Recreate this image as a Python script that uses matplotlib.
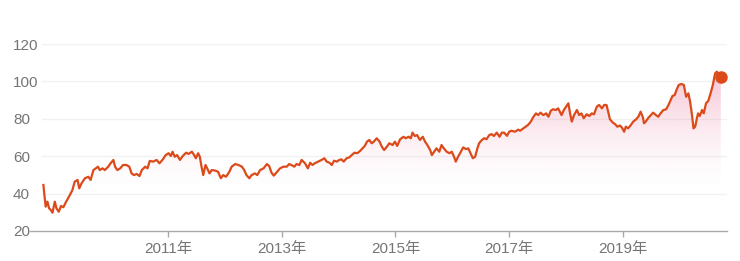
import numpy as np
import matplotlib
matplotlib.use("Agg")
import matplotlib.pyplot as plt
from matplotlib.colors import to_rgb

plt.rcParams["font.family"] = ["Liberation Sans", "Noto Sans CJK SC"]

# --- data (decimal year, price) ---
years = [
    2008.81, 2008.83, 2008.85, 2008.88, 2008.91, 2008.94, 2008.97, 2009.01, 2009.04, 2009.08,
    2009.12, 2009.16, 2009.21, 2009.26, 2009.32, 2009.36, 2009.41, 2009.44, 2009.48, 2009.54,
    2009.60, 2009.64, 2009.69, 2009.73, 2009.77, 2009.80, 2009.85, 2009.89, 2009.95, 2009.99,
    2010.04, 2010.07, 2010.11, 2010.16, 2010.21, 2010.27, 2010.32, 2010.36, 2010.40, 2010.45,
    2010.50, 2010.54, 2010.60, 2010.64, 2010.68, 2010.74, 2010.80, 2010.85, 2010.91, 2010.96,
    2011.01, 2011.05, 2011.08, 2011.12, 2011.16, 2011.21, 2011.26, 2011.32, 2011.36, 2011.42,
    2011.46, 2011.49, 2011.53, 2011.56, 2011.59, 2011.62, 2011.66, 2011.69, 2011.73, 2011.77,
    2011.83, 2011.88, 2011.93, 2011.97, 2012.02, 2012.08, 2012.12, 2012.18, 2012.24, 2012.30,
    2012.34, 2012.38, 2012.43, 2012.47, 2012.53, 2012.57, 2012.62, 2012.68, 2012.74, 2012.78,
    2012.82, 2012.86, 2012.92, 2012.97, 2013.03, 2013.09, 2013.13, 2013.17, 2013.22, 2013.26,
    2013.31, 2013.35, 2013.41, 2013.46, 2013.50, 2013.54, 2013.58, 2013.64, 2013.70, 2013.75,
    2013.79, 2013.84, 2013.88, 2013.92, 2013.97, 2014.01, 2014.05, 2014.09, 2014.14, 2014.19,
    2014.23, 2014.28, 2014.33, 2014.38, 2014.42, 2014.46, 2014.50, 2014.54, 2014.58, 2014.62,
    2014.67, 2014.72, 2014.76, 2014.80, 2014.85, 2014.89, 2014.95, 2014.99, 2015.03, 2015.08,
    2015.14, 2015.18, 2015.23, 2015.27, 2015.30, 2015.34, 2015.38, 2015.43, 2015.48, 2015.52,
    2015.56, 2015.61, 2015.64, 2015.68, 2015.72, 2015.77, 2015.81, 2015.85, 2015.90, 2015.95,
    2015.99, 2016.03, 2016.06, 2016.10, 2016.15, 2016.19, 2016.24, 2016.28, 2016.32, 2016.36,
    2016.40, 2016.44, 2016.47, 2016.52, 2016.56, 2016.60, 2016.65, 2016.69, 2016.73, 2016.78,
    2016.83, 2016.87, 2016.91, 2016.96, 2017.00, 2017.04, 2017.10, 2017.16, 2017.19, 2017.25,
    2017.29, 2017.33, 2017.38, 2017.42, 2017.47, 2017.51, 2017.55, 2017.60, 2017.65, 2017.69,
    2017.73, 2017.77, 2017.82, 2017.86, 2017.89, 2017.92, 2017.96, 2018.00, 2018.04, 2018.07,
    2018.10, 2018.14, 2018.19, 2018.23, 2018.27, 2018.31, 2018.36, 2018.41, 2018.45, 2018.49,
    2018.54, 2018.58, 2018.63, 2018.67, 2018.71, 2018.74, 2018.77, 2018.82, 2018.86, 2018.90,
    2018.95, 2018.99, 2019.02, 2019.05, 2019.09, 2019.14, 2019.18, 2019.23, 2019.27, 2019.31,
    2019.35, 2019.37, 2019.40, 2019.44, 2019.49, 2019.53, 2019.58, 2019.62, 2019.66, 2019.71,
    2019.76, 2019.80, 2019.84, 2019.87, 2019.91, 2019.94, 2019.98, 2020.03, 2020.07, 2020.11,
    2020.15, 2020.18, 2020.21, 2020.24, 2020.27, 2020.30, 2020.32, 2020.35, 2020.39, 2020.42,
    2020.46, 2020.50, 2020.54, 2020.58, 2020.62, 2020.65, 2020.68, 2020.72,
]
prices = [
    44.6, 38.4, 33.0, 35.7, 32.1, 31.2, 29.8, 35.7, 32.1, 30.3,
    33.4, 32.7, 35.7, 38.4, 41.9, 46.4, 47.3, 42.8, 45.5, 48.2,
    49.0, 47.3, 52.6, 53.5, 54.4, 52.6, 53.5, 52.6, 54.4, 56.2,
    58.0, 54.4, 52.6, 53.5, 55.3, 55.3, 54.4, 50.8, 49.9, 50.5,
    49.4, 52.6, 54.4, 53.5, 57.5, 57.1, 58.0, 56.2, 58.3, 60.6,
    61.6, 60.1, 62.4, 59.7, 60.6, 58.0, 60.1, 61.9, 61.2, 62.4,
    60.6, 58.9, 61.6, 59.7, 54.4, 49.9, 55.3, 53.5, 50.8, 52.6,
    52.3, 51.7, 48.2, 49.9, 49.0, 51.7, 54.4, 55.8, 55.3, 54.4,
    52.6, 49.9, 48.2, 49.9, 50.8, 49.9, 52.6, 53.5, 55.8, 54.7,
    51.2, 49.6, 51.7, 53.5, 54.4, 54.4, 55.8, 55.3, 54.4, 55.8,
    55.3, 58.0, 56.2, 53.5, 56.5, 55.3, 56.2, 57.1, 58.0, 58.9,
    57.1, 56.5, 55.3, 57.6, 57.1, 58.0, 58.3, 57.1, 58.9, 59.4,
    60.6, 61.9, 61.6, 62.9, 64.2, 65.5, 67.8, 68.7, 66.9, 67.8,
    69.6, 67.8, 65.1, 63.3, 65.1, 66.9, 66.0, 67.8, 65.5, 69.0,
    70.4, 69.6, 70.4, 69.6, 72.6, 70.8, 71.3, 68.7, 70.4, 67.8,
    66.0, 63.3, 60.6, 62.4, 64.2, 62.4, 66.0, 64.2, 62.4, 61.6,
    62.4, 59.7, 57.1, 59.7, 62.4, 64.7, 63.8, 64.2, 61.6, 58.9,
    59.7, 64.2, 66.9, 68.7, 69.6, 69.1, 71.3, 71.8, 70.8, 72.6,
    70.4, 72.6, 72.6, 70.9, 73.1, 73.6, 73.1, 74.2, 73.6, 74.9,
    75.8, 76.7, 78.5, 80.8, 82.9, 82.0, 83.3, 82.0, 82.9, 81.1,
    84.3, 85.1, 84.7, 85.6, 83.8, 82.0, 84.7, 86.5, 88.3, 82.9,
    78.5, 82.0, 84.7, 82.0, 82.9, 80.3, 82.4, 81.5, 82.9, 82.4,
    86.5, 87.4, 85.6, 87.4, 87.4, 83.8, 79.8, 78.0, 77.2, 75.8,
    76.4, 74.9, 73.1, 75.8, 74.9, 76.7, 78.5, 79.7, 81.1, 83.8,
    80.8, 77.6, 78.5, 80.3, 82.0, 83.3, 82.0, 81.1, 82.9, 84.7,
    85.1, 87.4, 90.1, 92.2, 92.7, 95.4, 98.1, 98.6, 98.1, 91.8,
    93.6, 89.2, 82.9, 74.9, 75.8, 80.3, 82.9, 81.5, 84.7, 82.9,
    88.3, 89.6, 93.6, 98.1, 104.3, 105.2, 104.3, 102.5,
]
tick_years = [2011, 2013, 2015, 2017, 2019]
tick_labels = [f"{y}年" for y in tick_years]
y_ticks = [20, 40, 60, 80, 100, 120]

LINE = "#dc4a1a"
TEXT = "#757575"

fig = plt.figure(figsize=(7.4, 2.61), dpi=100)
ax = fig.add_axes([30 / 740, 30 / 261, 697 / 740, 187 / 261])

# faint gridlines
for v in y_ticks[1:]:
    ax.axhline(v, xmin=0.017, color="#f1f1f1", lw=1, zorder=0)

# pink gradient under the line, strongest near the top, gone by 40
poly = ax.fill_between(years, prices, 20, facecolor="none", edgecolor="none")
grad = np.zeros((256, 1, 4))
grad[..., :3] = to_rgb("#e6507e")
levels = np.linspace(20, 120, 256)
grad[:, 0, 3] = np.clip((levels - 40) / (106 - 40), 0, 1) ** 1.6 * 0.34
im = ax.imshow(grad, extent=[years[0], years[-1], 20, 120], origin="lower",
               aspect="auto", zorder=1, interpolation="bilinear")
im.set_clip_path(poly.get_paths()[0], transform=ax.transData)

ax.plot(years, prices, color=LINE, lw=1.6, zorder=3, solid_joinstyle="round")
ax.plot(years[-1], prices[-1], "o", ms=8, color=LINE, zorder=4, clip_on=False)

ax.set_xlim(2008.574, 2020.829)
ax.set_ylim(20, 120)

for s in ["top", "right", "left"]:
    ax.spines[s].set_visible(False)
ax.spines["bottom"].set_color("#aaaaaa")
ax.spines["bottom"].set_linewidth(1)

ax.set_xticks(tick_years, tick_labels)
ax.tick_params(axis="x", length=4, width=1, color="#aaaaaa", labelcolor=TEXT,
               labelsize=11, pad=4)
ax.set_yticks(y_ticks)
ax.tick_params(axis="y", length=0, pad=12.2, labelsize=11, labelcolor=TEXT)
for lab in ax.get_yticklabels():
    lab.set_horizontalalignment("left")

fig.savefig("out.png", dpi=100)
